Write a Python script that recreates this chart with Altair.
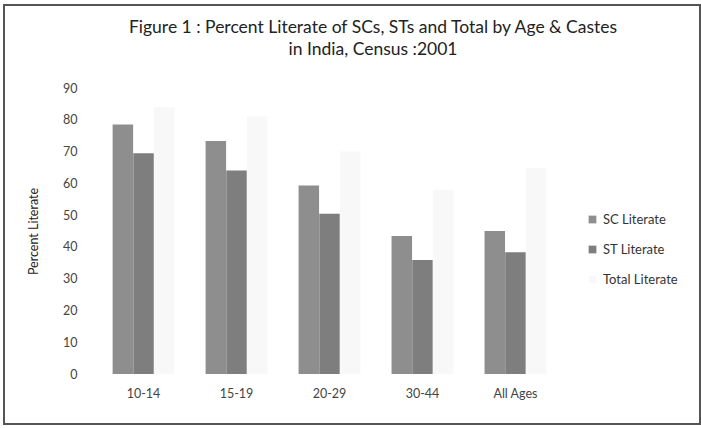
import altair as alt
import pandas as pd

ages = ["10-14", "15-19", "20-29", "30-44", "All Ages"]
sc_literate = [78.5, 73.3, 59.3, 43.4, 45.0]
st_literate = [69.5, 64.0, 50.4, 35.9, 38.3]
total_literate = [84.0, 81.0, 70.0, 58.0, 64.8]
series = ["SC Literate", "ST Literate", "Total Literate"]
colors = ["#8e8e8e", "#7e7e7e", "#f8f8f8"]
title_lines = ["Figure  1 : Percent Literate of SCs, STs and Total by Age & Castes",
               "in India, Census :2001"]

rows = []
for i, a in enumerate(ages):
    for s, vals in zip(series, [sc_literate, st_literate, total_literate]):
        rows.append({"age": a, "series": s, "value": vals[i]})
df = pd.DataFrame(rows)

FONT = "Lato"

bars = alt.Chart(df).mark_bar(size=20.5).encode(
    x=alt.X("age:N", sort=ages, title=None,
            scale=alt.Scale(paddingInner=0.333, paddingOuter=0.167),
            axis=alt.Axis(labelAngle=0, labelPadding=13, ticks=False, domain=False,
                          labelFont=FONT, labelFontSize=12.5, labelColor="#444")),
    xOffset=alt.XOffset("series:N", sort=series,
                        scale=alt.Scale(paddingInner=0, paddingOuter=0)),
    y=alt.Y("value:Q", title="Percent Literate",
            scale=alt.Scale(domain=[0, 90], nice=False),
            axis=alt.Axis(values=list(range(0, 91, 10)), grid=False, domain=False, ticks=False,
                          labelPadding=20, labelFont=FONT, labelFontSize=12.5, labelColor="#444",
                          titleFont=FONT, titleFontSize=12.5, titleFontWeight="normal",
                          titleColor="#222", titlePadding=22)),
    color=alt.Color("series:N", sort=series,
                    scale=alt.Scale(domain=series, range=colors),
                    legend=alt.Legend(title=None, orient="none", legendX=489, legendY=125,
                                      symbolType="square", symbolSize=60, symbolStrokeWidth=0,
                                      labelFont=FONT, labelFontSize=13, labelColor="#333",
                                      rowPadding=16, labelOffset=4)),
)

frame = alt.Chart(pd.DataFrame({"a": [0]})).mark_rect(
    fill=None, stroke="#555", strokeWidth=2
).encode(x=alt.value(-93), x2=alt.value(603), y=alt.value(-83), y2=alt.value(336))

title_df = pd.DataFrame({"line": title_lines})
title1 = alt.Chart(title_df.iloc[[0]]).mark_text(
    font=FONT, fontSize=17.5, color="#222", align="center", baseline="middle"
).encode(text="line:N", x=alt.value(276), y=alt.value(-60))
title2 = alt.Chart(title_df.iloc[[1]]).mark_text(
    font=FONT, fontSize=17.5, color="#222", align="center", baseline="middle"
).encode(text="line:N", x=alt.value(276), y=alt.value(-38))

chart = alt.layer(bars, frame, title1, title2).properties(
    width=465, height=286,
    background="white",
    autosize=alt.AutoSizeParams(type="none"),
    padding={"left": 97, "top": 88, "right": 139, "bottom": 54},
).configure_view(strokeWidth=0)

chart.save("out.html", embed_options={"renderer": "svg", "actions": False})
